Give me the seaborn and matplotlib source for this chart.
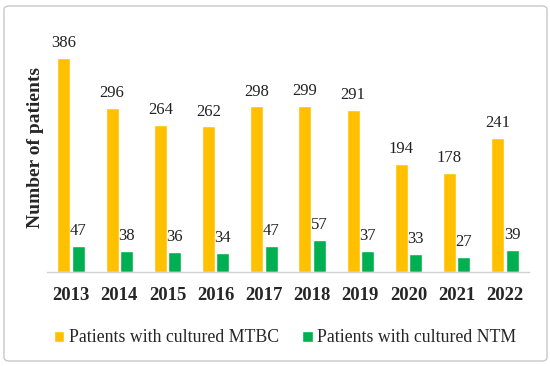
import pandas as pd
import matplotlib.pyplot as plt
import seaborn as sns
from matplotlib.patches import FancyBboxPatch

# Values
years = ['2013', '2014', '2015', '2016', '2017', '2018', '2019', '2020', '2021', '2022']
mtbc = [386, 296, 264, 262, 298, 299, 291, 194, 178, 241]
ntm = [47, 38, 36, 34, 47, 57, 37, 33, 27, 39]
series_names = ['Patients with cultured MTBC', 'Patients with cultured NTM']
colors = ['#FFC000', '#00B050']

df = pd.DataFrame({
    'year': years * 2,
    'count': mtbc + ntm,
    'series': [series_names[0]] * len(years) + [series_names[1]] * len(years),
})

sns.set_style('white')
plt.rcParams['font.family'] = ['Liberation Serif', 'DejaVu Serif']

fig = plt.figure(figsize=(5.5, 3.66), dpi=100)
ax = fig.add_axes([47 / 550, 1 - 272 / 366, 482 / 550, 250 / 366])

sns.barplot(data=df, x='year', y='count', hue='series', palette=colors,
            saturation=1, width=0.6, gap=0.1, ax=ax, legend=True)

for cont in ax.containers:
    ax.bar_label(cont, padding=5, fontsize=12, color='#222222')

ax.set_ylim(0, 450)
ax.set_xlim(-0.5, 9.5)
ax.set_yticks([])
ax.set_xlabel('')
ax.set_ylabel('Number of patients', fontsize=14, fontweight='bold', labelpad=2)
ax.tick_params(axis='x', length=0, labelsize=13.5, pad=11)
for lbl in ax.get_xticklabels():
    lbl.set_fontweight('bold')

for side in ['top', 'right', 'left']:
    ax.spines[side].set_visible(False)
ax.spines['bottom'].set_color('#d0d0d0')
ax.spines['bottom'].set_linewidth(1)

ax.legend(loc='center', bbox_to_anchor=(285 / 550, 1 - 338 / 366), bbox_transform=fig.transFigure,
          ncol=2, frameon=False, fontsize=12.8, handlelength=0.6, handleheight=0.6,
          handletextpad=0.25, columnspacing=1.3)

# light rounded frame around the whole chart
frame = FancyBboxPatch((4 / 550, 5 / 366), 543 / 550, 355 / 366,
                       boxstyle='round,pad=0,rounding_size=0.01',
                       transform=fig.transFigure, fill=False,
                       edgecolor='#c8c8c8', linewidth=1)
fig.patches.append(frame)

fig.savefig('out.png', dpi=100)
plt.close()
